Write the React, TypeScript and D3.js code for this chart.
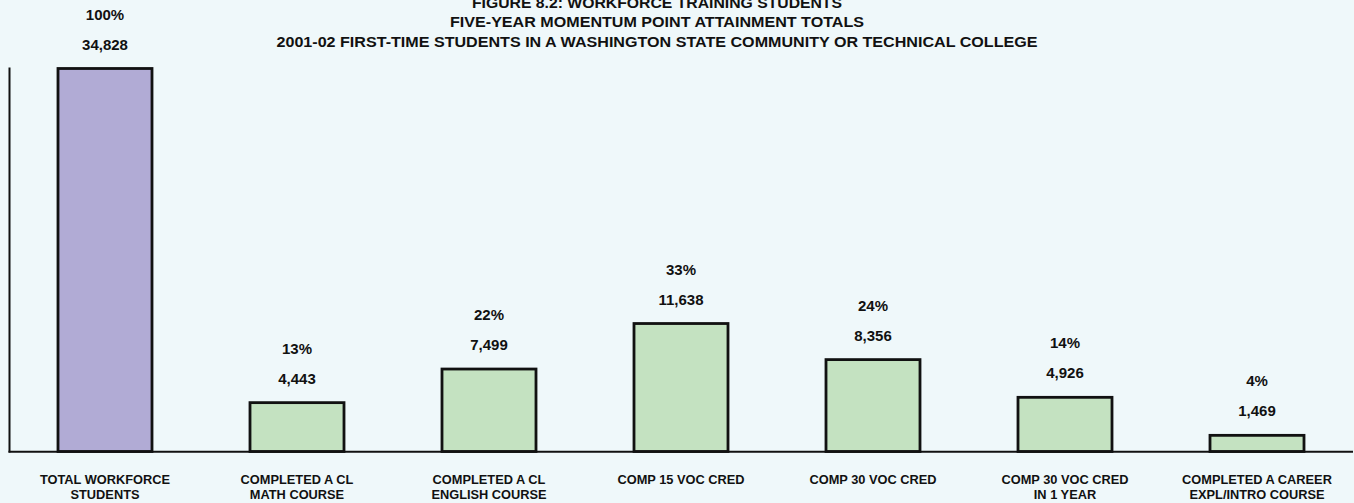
import React from "react";
import * as d3 from "d3";

const categories: string[][] = [
  ["TOTAL WORKFORCE", "STUDENTS"],
  ["COMPLETED A CL", "MATH COURSE"],
  ["COMPLETED A CL", "ENGLISH COURSE"],
  ["COMP 15 VOC CRED"],
  ["COMP 30 VOC CRED"],
  ["COMP 30 VOC CRED", "IN 1 YEAR"],
  ["COMPLETED A CAREER", "EXPL/INTRO COURSE"],
];
const values: number[] = [34828, 4443, 7499, 11638, 8356, 4926, 1469];
const percents: string[] = ["100%", "13%", "22%", "33%", "24%", "14%", "4%"];
const titleLines: string[] = [
  "FIGURE 8.2:  WORKFORCE TRAINING STUDENTS",
  "FIVE-YEAR MOMENTUM POINT ATTAINMENT TOTALS",
  "2001-02 FIRST-TIME STUDENTS IN A WASHINGTON STATE COMMUNITY OR TECHNICAL COLLEGE",
];

const W = 1354;
const H = 503;
const FONT = "'Liberation Sans', Arial, Helvetica, sans-serif";

export default function App() {
  const idx = values.map((_, i) => String(i));
  const x = d3
    .scaleBand<string>()
    .domain(idx)
    .range([9, 1353])
    .paddingInner(0.5)
    .paddingOuter(0.25);
  const y = d3.scaleLinear().domain([0, 34828]).range([451.5, 68.5]);
  const fmt = d3.format(",");

  const titleY = [7.5, 27.3, 46.7];
  const titleW = [370, 414, 761];

  return (
    <div style={{ position: "fixed", left: 0, top: 0, width: W, height: H }}>
      <svg width={W} height={H} style={{ display: "block", background: "#eff8fa" }}>
        {titleLines.map((t, i) => (
          <text
            key={"t" + i}
            x={657}
            y={titleY[i]}
            textAnchor="middle"
            fontFamily={FONT}
            fontWeight="bold"
            fontSize={14}
            fill="#111"
            textLength={titleW[i]}
            lengthAdjust="spacingAndGlyphs"
          >
            {t}
          </text>
        ))}
        {values.map((v, i) => {
          const bx = x(String(i))!;
          const bw = x.bandwidth();
          const top = y(v);
          const cx = bx + bw / 2;
          return (
            <g key={"b" + i}>
              <rect
                x={bx + 1}
                y={top}
                width={bw - 2}
                height={y(0) - top}
                fill={i === 0 ? "#b1abd5" : "#c4e2c1"}
                stroke="#111"
                strokeWidth={2.8}
              />
              <text
                x={cx}
                y={top - 19}
                textAnchor="middle"
                fontFamily={FONT}
                fontWeight="bold"
                fontSize={15}
                fill="#111"
              >
                {fmt(v)}
              </text>
              <text
                x={cx}
                y={top - 49}
                textAnchor="middle"
                fontFamily={FONT}
                fontWeight="bold"
                fontSize={15}
                fill="#111"
              >
                {percents[i]}
              </text>
              {categories[i].map((line, j) => (
                <text
                  key={j}
                  x={cx}
                  y={483.5 + j * 15.5}
                  textAnchor="middle"
                  fontFamily={FONT}
                  fontWeight="bold"
                  fontSize={12.8}
                  fill="#111"
                >
                  {line}
                </text>
              ))}
            </g>
          );
        })}
        <line x1={9.5} x2={9.5} y1={67.5} y2={452.5} stroke="#111" strokeWidth={2} />
        <line x1={8.5} x2={1353} y1={451.7} y2={451.7} stroke="#111" strokeWidth={2} />
      </svg>
    </div>
  );
}
